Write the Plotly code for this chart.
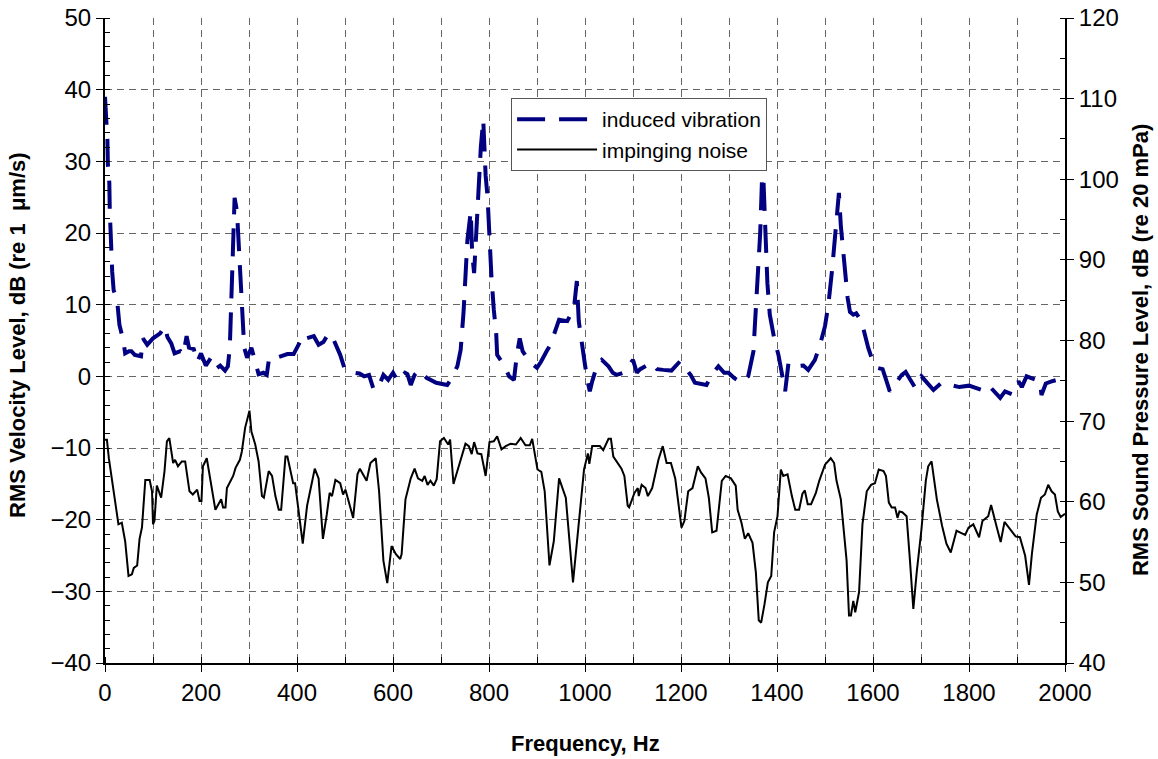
import plotly.graph_objects as go

# ---------------- data ----------------
vib_freq = [0, 3, 5, 6, 9, 10, 11, 13, 15, 18, 25, 30, 38, 42, 50, 55, 62, 75, 79, 88,
            100, 115, 125, 130, 138, 145, 157, 163, 170, 175, 185, 192, 200, 210, 220, 230, 240, 250, 256, 260,
            265, 270, 275, 280, 285, 290, 296, 305, 320, 330, 337, 342, 358, 380, 393, 405, 414, 420, 435, 445,
            455, 466, 475, 490, 500, 510, 520, 530, 540, 550, 560, 570, 580, 590, 600, 610, 625, 630, 637, 645,
            655, 670, 680, 690, 713, 720, 734, 741, 747, 751, 755, 762, 765, 769, 773, 779, 783, 788, 791, 793,
            797, 800, 805, 810, 815, 817, 831, 842, 852, 858, 864, 870, 887, 900, 908, 920, 928, 946, 963, 977,
            983, 987, 994, 1000, 1005, 1010, 1015, 1025, 1035, 1049, 1058, 1066, 1080, 1100, 1108, 1115, 1139, 1150, 1163, 1180,
            1198, 1210, 1220, 1229, 1253, 1265, 1278, 1290, 1299, 1310, 1326, 1340, 1351, 1354, 1360, 1365, 1369, 1372, 1376, 1380,
            1385, 1395, 1403, 1410, 1417, 1424, 1440, 1455, 1465, 1479, 1490, 1500, 1507, 1515, 1522, 1529, 1533, 1540, 1547, 1552,
            1559, 1565, 1576, 1590, 1600, 1608, 1620, 1625, 1635, 1660, 1668, 1678, 1688, 1701, 1712, 1726, 1743, 1760, 1780, 1800,
            1826, 1840, 1850, 1865, 1875, 1890, 1903, 1910, 1920, 1935, 1948, 1951, 1960, 1972, 1985, 2000]
vib_level = [39.0, 35.6, 33.0, 29.5, 27.0, 23.0, 21.0, 17.0, 14.6, 12.0, 10.8, 7.2, 5.0, 3.2, 3.5, 3.5, 3.0, 2.8, 5.3, 4.4,
             5.3, 6.0, 7.0, 5.5, 4.6, 3.2, 3.5, 3.0, 5.6, 4.0, 3.8, 2.0, 3.2, 1.5, 2.5, 1.0, 1.5, 0.8, 1.4, 4.0,
             15.0, 24.9, 23.0, 17.0, 10.0, 4.0, 2.6, 4.0, 0.3, 0.5, 0.2, 2.6, 2.6, 3.1, 3.1, 4.5, 5.8, 5.3, 5.6, 4.4,
             4.8, 6.0, 5.3, 3.0, 0.9, 0.8, 0.5, 0.4, 0.0, 0.2, -1.9, -1.5, 0.2, -0.5, 0.5, -0.7, 0.5, 0.3, -1.2, 0.2,
             0.9, -0.2, -0.5, -0.9, -1.2, -0.5, 1.4, 3.7, 9.0, 13.7, 19.0, 23.0, 17.0, 14.4, 19.8, 25.8, 32.0, 35.8, 30.0, 28.0,
             25.0, 19.8, 14.0, 9.3, 6.0, 3.0, 1.6, 0.0, -0.5, 3.0, 5.3, 3.5, 1.9, 1.2, 2.0, 3.5, 4.4, 7.9, 7.7, 9.5,
             13.3, 7.7, 4.0, 1.6, -0.5, -2.1, -0.7, 1.5, 2.3, 1.4, 0.5, 0.2, 0.5, 2.3, 0.5, 1.0, 1.9, 1.0, 0.9, 0.8,
             2.1, 1.0, 0.2, -0.9, -1.2, 0.3, 1.4, 0.5, 0.5, -0.2, -0.9, 0.0, 3.5, 7.2, 14.0, 20.0, 28.0, 27.0, 20.0, 13.0,
             8.6, 5.0, 3.0, 0.2, -2.1, 1.9, 1.4, 1.5, 0.9, 2.3, 4.5, 7.0, 10.0, 15.0, 21.0, 25.6, 21.0, 16.0, 11.0, 9.0,
             8.6, 8.8, 7.7, 4.0, 2.0, 1.2, 1.0, 0.0, -2.1, 0.2, 0.6, -0.5, -1.6, 0.0, -0.8, -1.9, -0.9, -1.2, -1.5, -1.3,
             -1.9, -1.2, -2.0, -3.0, -2.1, -2.5, -0.7, -1.5, 0.0, -0.3, -0.7, -2.6, -1.0, -0.7, -0.5, -0.2]

noise_freq = [0, 4, 8, 15, 22, 28, 35, 42, 49, 56, 60, 67, 72, 77, 84, 93, 98, 100, 103, 108,
              117, 124, 129, 134, 142, 146, 152, 160, 167, 176, 183, 192, 197, 201, 204, 212, 230, 242, 246, 251,
              254, 267, 272, 281, 285, 292, 301, 305, 313, 320, 327, 331, 341, 348, 355, 362, 367, 376, 380, 392,
              396, 405, 412, 421, 428, 437, 445, 454, 462, 468, 473, 480, 490, 496, 501, 511, 517, 526, 531, 545,
              553, 564, 571, 580, 588, 597, 606, 615, 618, 626, 637, 645, 652, 661, 666, 672, 678, 685, 691, 698,
              706, 715, 719, 726, 738, 744, 751, 758, 764, 769, 776, 784, 793, 801, 810, 817, 826, 835, 845, 856,
              866, 876, 885, 890, 901, 909, 916, 926, 935, 946, 960, 975, 990, 998, 1006, 1009, 1015, 1031, 1038, 1049,
              1054, 1059, 1076, 1082, 1089, 1092, 1103, 1110, 1112, 1118, 1126, 1131, 1140, 1153, 1162, 1170, 1179, 1188, 1201, 1207,
              1215, 1224, 1235, 1242, 1251, 1258, 1265, 1274, 1285, 1293, 1304, 1314, 1318, 1326, 1333, 1340, 1349, 1356, 1362, 1367,
              1374, 1381, 1388, 1394, 1401, 1408, 1413, 1422, 1431, 1438, 1446, 1453, 1458, 1464, 1471, 1481, 1488, 1500, 1512, 1519,
              1524, 1533, 1545, 1550, 1554, 1559, 1563, 1571, 1578, 1587, 1596, 1604, 1612, 1622, 1627, 1633, 1639, 1646, 1651, 1655,
              1661, 1670, 1677, 1684, 1691, 1701, 1710, 1715, 1722, 1733, 1744, 1753, 1762, 1774, 1781, 1792, 1799, 1809, 1821, 1828,
              1840, 1846, 1858, 1866, 1874, 1885, 1897, 1906, 1917, 1925, 1931, 1941, 1950, 1958, 1965, 1972, 1979, 1985, 1991, 2000]
noise_level = [67.7, 67.7, 65.4, 62.6, 60.1, 57.2, 57.4, 55.1, 50.8, 51.0, 51.8, 52.1, 55.4, 56.8, 62.7, 62.7, 61.3, 57.2, 57.6, 62.0,
               60.5, 63.8, 67.5, 67.9, 64.8, 65.2, 64.4, 65.0, 65.0, 61.3, 60.9, 61.5, 60.1, 60.1, 64.4, 65.4, 59.0, 60.3, 59.3, 59.3,
               61.7, 63.2, 64.2, 65.2, 66.2, 69.2, 71.3, 68.7, 67.1, 65.0, 60.7, 60.5, 63.8, 63.2, 60.7, 59.0, 59.0, 65.6, 65.6, 62.3,
               62.3, 58.4, 54.8, 59.5, 61.7, 64.1, 62.9, 55.4, 58.4, 61.1, 60.7, 62.7, 62.3, 60.9, 61.5, 59.5, 58.0, 63.4, 64.1, 62.6,
               64.8, 65.4, 61.3, 52.7, 49.9, 54.5, 53.5, 52.9, 53.5, 60.3, 62.9, 64.1, 62.9, 62.6, 63.2, 62.1, 62.6, 62.0, 62.8, 67.5,
               67.9, 67.1, 67.7, 62.2, 64.6, 66.0, 67.2, 66.9, 65.9, 67.4, 66.0, 65.9, 63.2, 67.4, 67.5, 68.1, 66.5, 66.9, 67.2, 67.1,
               67.9, 67.0, 67.0, 67.8, 64.0, 63.7, 61.3, 52.1, 55.1, 62.9, 60.5, 50.0, 59.5, 64.0, 66.0, 64.7, 66.9, 66.9, 66.4, 67.8,
               67.8, 65.6, 64.1, 63.2, 59.5, 59.3, 61.1, 61.7, 60.7, 62.1, 61.7, 60.7, 61.7, 65.2, 66.9, 64.8, 64.8, 62.9, 56.8, 57.6,
               61.3, 61.7, 64.4, 63.6, 62.9, 60.5, 56.2, 56.4, 62.6, 63.2, 62.9, 62.0, 59.0, 57.4, 55.4, 56.1, 54.9, 51.2, 45.3, 45.0,
               47.3, 50.0, 50.8, 56.2, 58.2, 64.0, 63.2, 63.4, 60.7, 59.0, 59.0, 61.0, 61.4, 59.7, 59.7, 61.1, 62.6, 64.6, 65.4, 64.8,
               62.6, 60.3, 52.7, 45.9, 45.9, 47.7, 46.3, 48.8, 57.2, 61.3, 62.1, 62.3, 64.0, 63.8, 63.2, 59.9, 59.3, 59.3, 58.0, 58.8,
               58.7, 58.2, 52.7, 46.7, 51.2, 56.6, 62.6, 64.4, 65.0, 60.3, 57.0, 54.8, 53.7, 56.4, 56.2, 55.9, 56.8, 57.2, 55.6, 57.6,
               58.2, 59.6, 56.8, 55.0, 57.5, 56.6, 55.7, 55.6, 53.3, 49.7, 53.5, 58.4, 60.5, 60.9, 62.1, 61.3, 60.9, 58.8, 58.1, 58.5]

x_ticks = [0, 200, 400, 600, 800, 1000, 1200, 1400, 1600, 1800, 2000]
left_ticks = [-40, -30, -20, -10, 0, 10, 20, 30, 40, 50]
right_ticks = [40, 50, 60, 70, 80, 90, 100, 110, 120]

# ---------------- figure ----------------
FONT = "Liberation Sans, Arial, sans-serif"
GRID = "#666666"
GRID_DASH = "7px,5px"

fig = go.Figure()
fig.add_trace(go.Scatter(
    x=vib_freq, y=vib_level, mode="lines", name="induced vibration",
    line=dict(color="#000080", width=4, dash="28px,14px"),
    yaxis="y"))
fig.add_trace(go.Scatter(
    x=noise_freq, y=noise_level, mode="lines", name="impinging noise",
    line=dict(color="#000000", width=2),
    yaxis="y2"))

fig.update_layout(
    width=1158, height=759,
    margin=dict(l=105, r=93, t=18, b=96),
    paper_bgcolor="white", plot_bgcolor="white",
    font=dict(family=FONT, color="black", size=24),
    showlegend=True,
    legend=dict(
        x=0.423, y=0.876, xanchor="left", yanchor="top",
        bgcolor="white", bordercolor="#555555", borderwidth=1,
        font=dict(family=FONT, size=21, color="black"),
        itemwidth=80, tracegroupgap=4,
    ),
    xaxis=dict(
        range=[0, 2000], tickvals=x_ticks, ticktext=[str(v) for v in x_ticks],
        ticks="outside", ticklen=7, tickcolor="black", tickwidth=1,
        showline=True, linecolor="black", linewidth=2, mirror=False,
        showgrid=True, gridcolor=GRID, griddash=GRID_DASH, gridwidth=1,
        minor=dict(dtick=100, ticks="inside", ticklen=6, tickcolor="black",
                   showgrid=True, gridcolor=GRID, griddash=GRID_DASH, gridwidth=1),
        zeroline=False, automargin=False, ticklabeloverflow="allow",
        tickfont=dict(size=24),
    ),
    yaxis=dict(
        range=[-40, 50], tickvals=left_ticks,
        ticks="outside", ticklen=7, tickcolor="black",
        showline=True, linecolor="black", linewidth=2,
        showgrid=True, gridcolor=GRID, griddash=GRID_DASH, gridwidth=1,
        minor=dict(dtick=2, ticks="inside", ticklen=5, tickcolor="black", showgrid=False),
        zeroline=False, automargin=False, ticklabeloverflow="allow",
        tickfont=dict(size=24),
    ),
    yaxis2=dict(
        range=[40, 120], tickvals=right_ticks,
        overlaying="y", side="right",
        ticks="outside", ticklen=7, tickcolor="black",
        showline=True, linecolor="black", linewidth=2,
        showgrid=False,
        minor=dict(dtick=5, ticks="inside", ticklen=5, tickcolor="black", showgrid=False),
        zeroline=False, automargin=False, ticklabeloverflow="allow",
        tickfont=dict(size=24),
    ),
)

# axis titles as annotations for precise placement
fig.add_annotation(text="<b>Frequency, Hz</b>", xref="paper", yref="paper",
                   x=0.5, y=-0.125, xanchor="center", yanchor="middle", showarrow=False,
                   font=dict(family=FONT, size=22, color="black"))
fig.add_annotation(text="<b>RMS Velocity Level, dB (re 1  μm/s)</b>", xref="paper", yref="paper",
                   x=-0.091, y=0.508, xanchor="center", yanchor="middle", textangle=-90, showarrow=False,
                   font=dict(family=FONT, size=22, color="black"))
fig.add_annotation(text="<b>RMS Sound Pressure Level, dB (re 20 mPa)</b>", xref="paper", yref="paper",
                   x=1.078, y=0.485, xanchor="center", yanchor="middle", textangle=-90, showarrow=False,
                   font=dict(family=FONT, size=22, color="black"))

# remove the browser's default 8px body margin so the figure fills the window exactly
fig.write_html("out.html", config={"displayModeBar": False},
               post_script="document.body.style.margin='0';")
